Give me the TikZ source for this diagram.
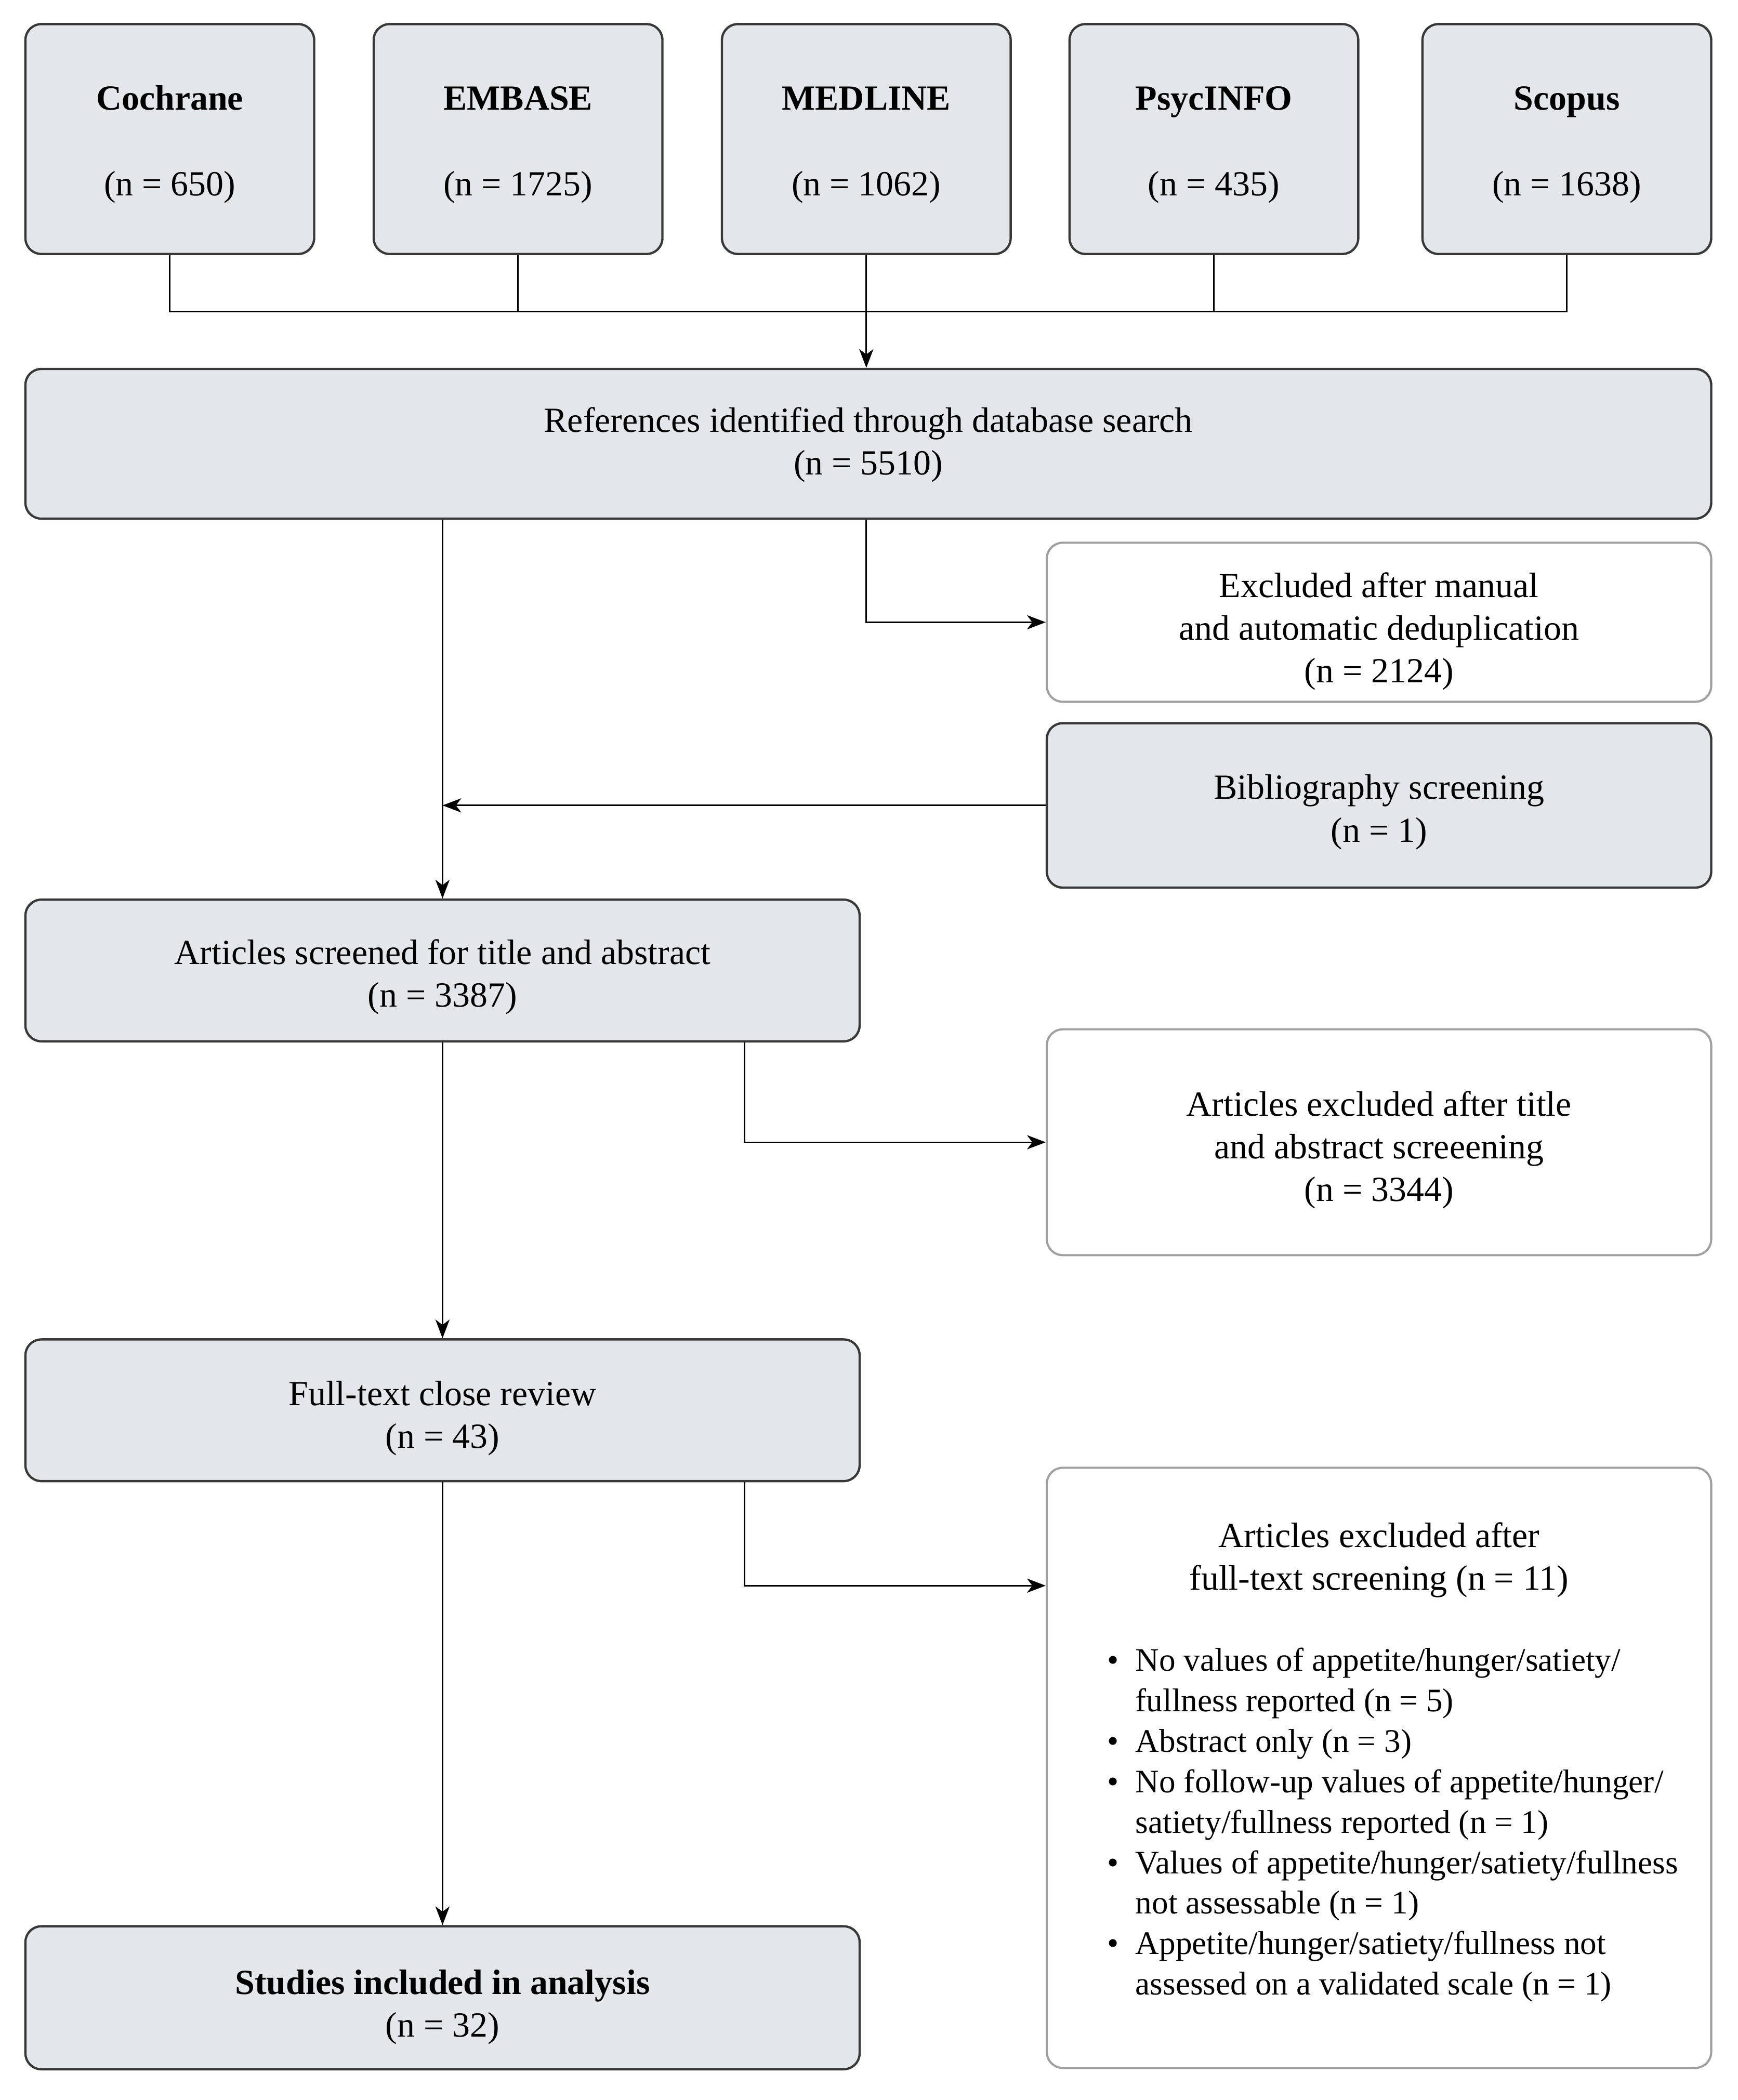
\documentclass[tikz,border=0pt]{standalone}
\usepackage{fontspec}
\setmainfont{Liberation Serif}
\usetikzlibrary{arrows.meta,calc}
\definecolor{boxfill}{HTML}{E4E7EA}
\definecolor{boxdark}{HTML}{383838}
\definecolor{boxgray}{HTML}{A0A0A0}
\newcommand{\mainfs}{\fontsize{13.2pt}{16pt}\selectfont}
\newcommand{\listfs}{\fontsize{12.3pt}{15.15pt}\selectfont}
\newcommand{\tdn}[1]{\rule{0pt}{#1}}
\begin{document}
\begin{tikzpicture}[x=0.5pt,y=-0.5pt,
  gbox/.style={draw=boxdark, fill=boxfill, line width=0.85pt, rounded corners=6pt, inner sep=0pt, align=center, font=\mainfs},
  wbox/.style={draw=boxgray, fill=white, line width=0.8pt, rounded corners=6pt, inner sep=0pt, align=center, font=\mainfs},
  dbox/.style={gbox, minimum width=108pt, minimum height=86pt},
  conn/.style={line width=0.55pt, draw=black},
  arr/.style={conn, -{Stealth[length=7pt,width=5.3pt,inset=2pt]}},
  txt/.style={inner sep=0pt, align=center, font=\mainfs}
]
\useasboundingbox (0,0) rectangle (1300,1571);

% database boxes
\node[dbox] (cochrane) at (127,104) {\tdn{13.1pt}\textbf{Cochrane}\\[16pt](n = 650)};
\node[dbox] (embase) at (387.5,104) {\tdn{13.1pt}\textbf{EMBASE}\\[16pt](n = 1725)};
\node[dbox] (medline) at (648,104) {\tdn{13.1pt}\textbf{MEDLINE}\\[16pt](n = 1062)};
\node[dbox] (psycinfo) at (908,104) {\tdn{13.1pt}\textbf{PsycINFO}\\[16pt](n = 435)};
\node[dbox] (scopus) at (1172,104) {\tdn{13.1pt}\textbf{Scopus}\\[16pt](n = 1638)};

% main column
\node[gbox, minimum width=630.5pt, minimum height=56pt] (ref) at (649.5,332) {\tdn{10.1pt}References identified through database search\\(n = 5510)};
\node[gbox, minimum width=312pt, minimum height=53pt] (screened) at (331,726) {\tdn{14.1pt}Articles screened for title and abstract\\(n = 3387)};
\node[gbox, minimum width=312pt, minimum height=53pt] (fulltext) at (331,1055) {\tdn{15.1pt}Full-text close review\\(n = 43)};
\node[gbox, minimum width=312pt, minimum height=53.5pt] (studies) at (331,1494.5) {\tdn{16.1pt}\textbf{Studies included in analysis}\\(n = 32)};

% side boxes
\node[wbox, minimum width=248.5pt, minimum height=59.5pt] (dedup) at (1031.5,465.5) {\tdn{16.1pt}Excluded after manual\\and automatic deduplication\\(n = 2124)};
\node[gbox, minimum width=248.5pt, minimum height=61.5pt] (bib) at (1031.5,602.5) {\tdn{14.1pt}Bibliography screening\\(n = 1)};
\node[wbox, minimum width=248.5pt, minimum height=84.5pt] (excla) at (1031.5,854.5) {\tdn{15.1pt}Articles excluded after title\\and abstract screeening\\(n = 3344)};
\node[wbox, minimum width=248.5pt, minimum height=224.5pt] (exclb) at (1031.5,1322.5) {};
\node[txt] (exclbhead) at (1031.5,1167) {Articles excluded after\\full-text screening (n = 11)};
\node[anchor=base west, inner sep=0pt, font=\listfs] (exclblist) at (828,1250) {%
\begin{tabular}[t]{@{}l@{}l@{}}
\makebox[10.5pt][l]{\textbullet} & No values of appetite/hunger/satiety/\\
 & fullness reported (n = 5)\\
\makebox[10.5pt][l]{\textbullet} & Abstract only (n = 3)\\
\makebox[10.5pt][l]{\textbullet} & No follow-up values of appetite/hunger/\\
 & satiety/fullness reported (n = 1)\\
\makebox[10.5pt][l]{\textbullet} & Values of appetite/hunger/satiety/fullness\\
 & not assessable (n = 1)\\
\makebox[10.5pt][l]{\textbullet} & Appetite/hunger/satiety/fullness not\\
 & assessed on a validated scale (n = 1)
\end{tabular}};

% connectors: databases
\coordinate (bus) at (648,233);
\draw[conn] (cochrane.south) |- (bus) -| (scopus.south);
\draw[conn] (embase.south) -- (embase.south |- bus);
\draw[conn] (psycinfo.south) -- (psycinfo.south |- bus);
\draw[arr] (medline.south) -- (medline.south |- ref.north);

% main flow
\draw[arr] (ref.south -| screened.north) -- (screened.north);
\draw[arr] (ref.south -| medline.south) |- (dedup.west);
\draw[arr] (bib.west) -- (bib.west -| screened.north);
\draw[arr] (screened.south) -- (fulltext.north);
\draw[arr] ([xshift=113pt]screened.south) |- (excla.west);
\draw[arr] (fulltext.south) -- (studies.north);
\draw[arr] ([xshift=113pt]fulltext.south) |- ([yshift=-44.5pt]exclb.north west);
\end{tikzpicture}
\end{document}
